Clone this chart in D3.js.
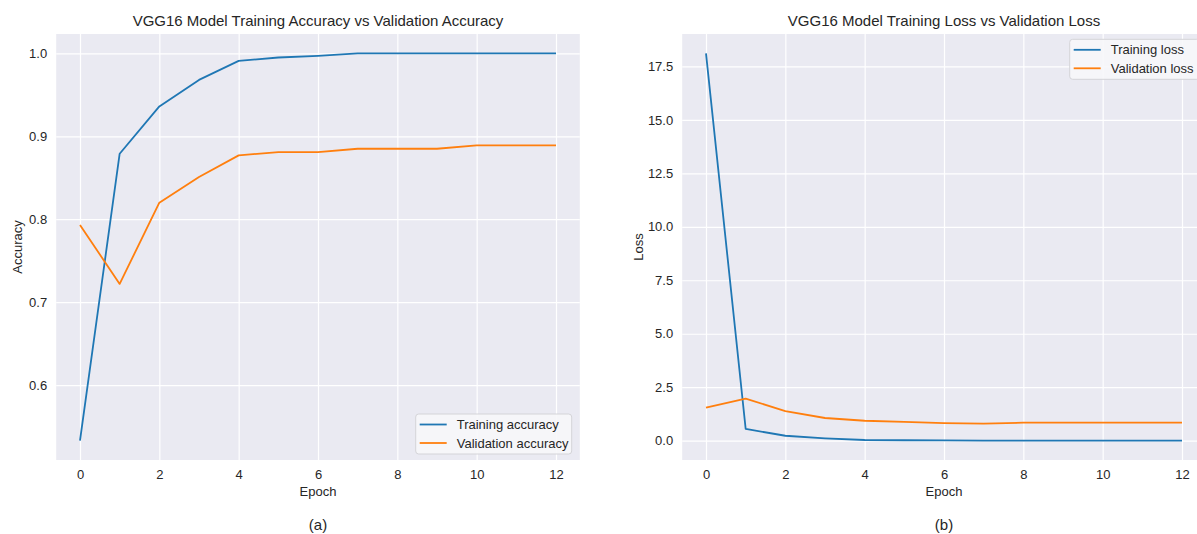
<!DOCTYPE html>
<html lang="en">
	<head>
		<meta charset="UTF-8">
		<title>VGG16 training curves</title>
		<script src="https://cdnjs.cloudflare.com/ajax/libs/d3/7.8.5/d3.min.js"></script>
		<style>
			body { margin: 0; background: white; }
			svg { display: block; font-family: "Liberation Sans", Arial, sans-serif; }
		</style>
		<script>
var epochs = [0, 1, 2, 3, 4, 5, 6, 7, 8, 9, 10, 11, 12];
var epochTicks = [0, 2, 4, 6, 8, 10, 12];

var trainAcc = [0.533, 0.879, 0.936, 0.968, 0.991, 0.995, 0.997, 1.0, 1.0, 1.0, 1.0, 1.0, 1.0];
var valAcc = [0.793, 0.722, 0.820, 0.851, 0.877, 0.881, 0.881, 0.885, 0.885, 0.885, 0.889, 0.889, 0.889];
var accTicks = [0.6, 0.7, 0.8, 0.9, 1.0];

var trainLoss = [18.11, 0.55, 0.23, 0.11, 0.03, 0.02, 0.01, 0.005, 0.003, 0.002, 0.002, 0.001, 0.001];
var valLoss = [1.54, 1.97, 1.38, 1.06, 0.93, 0.88, 0.82, 0.80, 0.84, 0.84, 0.84, 0.84, 0.84];
var lossTicks = [0.0, 2.5, 5.0, 7.5, 10.0, 12.5, 15.0, 17.5];

var blue = "#1f77b4", orange = "#ff7f0e", ink = "#262626";

// matplotlib style 5% padding around data
function padded(vals) {
	var ext = d3.extent(vals);
	var m = (ext[1] - ext[0]) * 0.05;
	return [ext[0] - m, ext[1] + m];
}

function drawPanel(svg, opt) {
	var scX = d3.scaleLinear().domain(padded(epochs)).range([opt.x0, opt.x1]);
	var scY = d3.scaleLinear().domain(padded(opt.series[0].values.concat(opt.series[1].values))).range([460, 34]);

	var g = svg.append("g");
	g.append("rect")
		.attr("x", opt.x0).attr("y", 34)
		.attr("width", opt.x1 - opt.x0).attr("height", 426)
		.attr("fill", "#eaeaf2");

	// grid via axes with full-length ticks
	g.append("g").attr("transform", "translate(0,460)")
		.call(d3.axisBottom(scX).tickValues(epochTicks).tickSize(-426).tickPadding(10).tickFormat(d3.format("d")))
		.call(a => a.select(".domain").remove())
		.call(a => a.selectAll("line").attr("stroke", "white").attr("stroke-width", 1.2))
		.call(a => a.selectAll("text").attr("fill", ink).attr("font-size", 13).attr("font-family", null));

	g.append("g").attr("transform", `translate(${opt.x0},0)`)
		.call(d3.axisLeft(scY).tickValues(opt.ticks).tickSize(-(opt.x1 - opt.x0)).tickPadding(9).tickFormat(d3.format(".1f")))
		.call(a => a.select(".domain").remove())
		.call(a => a.selectAll("line").attr("stroke", "white").attr("stroke-width", 1.2))
		.call(a => a.selectAll("text").attr("fill", ink).attr("font-size", 13).attr("font-family", null));

	var line = d3.line().x((d, i) => scX(epochs[i])).y(d => scY(d));
	opt.series.forEach(s => {
		g.append("path").attr("d", line(s.values))
			.attr("fill", "none").attr("stroke", s.color).attr("stroke-width", 1.8)
			.attr("stroke-linejoin", "round");
	});

	var cx = (opt.x0 + opt.x1) / 2;
	g.append("text").attr("x", cx).attr("y", 26).attr("text-anchor", "middle")
		.attr("font-size", 15).attr("fill", ink).text(opt.title);
	g.append("text").attr("x", cx).attr("y", 496).attr("text-anchor", "middle")
		.attr("font-size", 13).attr("fill", ink).text("Epoch");
	g.append("text").attr("transform", `translate(${opt.ylabX},247) rotate(-90)`).attr("text-anchor", "middle")
		.attr("dy", "0.35em").attr("font-size", 13).attr("fill", ink).text(opt.ylabel);
	g.append("text").attr("x", cx).attr("y", 530).attr("text-anchor", "middle")
		.attr("font-size", 15).attr("fill", ink).text(opt.caption);

	// legend
	var lg = g.append("g").attr("transform", `translate(${opt.legend[0]},${opt.legend[1]})`);
	lg.append("rect").attr("width", opt.legend[2]).attr("height", 40).attr("rx", 3)
		.attr("fill", "#f7f7fa").attr("fill-opacity", 0.9).attr("stroke", "#d4d4d8");
	opt.series.forEach((s, i) => {
		var yy = 10.5 + i * 18.5;
		lg.append("line").attr("x1", 4).attr("x2", 31).attr("y1", yy).attr("y2", yy)
			.attr("stroke", s.color).attr("stroke-width", 1.8);
		lg.append("text").attr("x", 41).attr("y", yy).attr("dy", "0.35em")
			.attr("font-size", 13).attr("fill", ink).text(s.name);
	});
}

function makeChart() {
	var svg = d3.select("svg");

	drawPanel(svg, {
		x0: 56.2, x1: 579.8,
		title: "VGG16 Model Training Accuracy vs Validation Accuracy",
		ylabel: "Accuracy", ylabX: 17, caption: "(a)",
		ticks: accTicks,
		series: [
			{name: "Training accuracy", values: trainAcc, color: blue},
			{name: "Validation accuracy", values: valAcc, color: orange}
		],
		legend: [415.7, 414, 156]
	});

	drawPanel(svg, {
		x0: 682.2, x1: 1205.8,
		title: "VGG16 Model Training Loss vs Validation Loss",
		ylabel: "Loss", ylabX: 638, caption: "(b)",
		ticks: lossTicks,
		series: [
			{name: "Training loss", values: trainLoss, color: blue},
			{name: "Validation loss", values: valLoss, color: orange}
		],
		legend: [1069.7, 39.3, 130]
	});
}
		</script>
	</head>
	<body onload="makeChart()">
		<svg width="1197" height="534"></svg>
	</body>
</html>
